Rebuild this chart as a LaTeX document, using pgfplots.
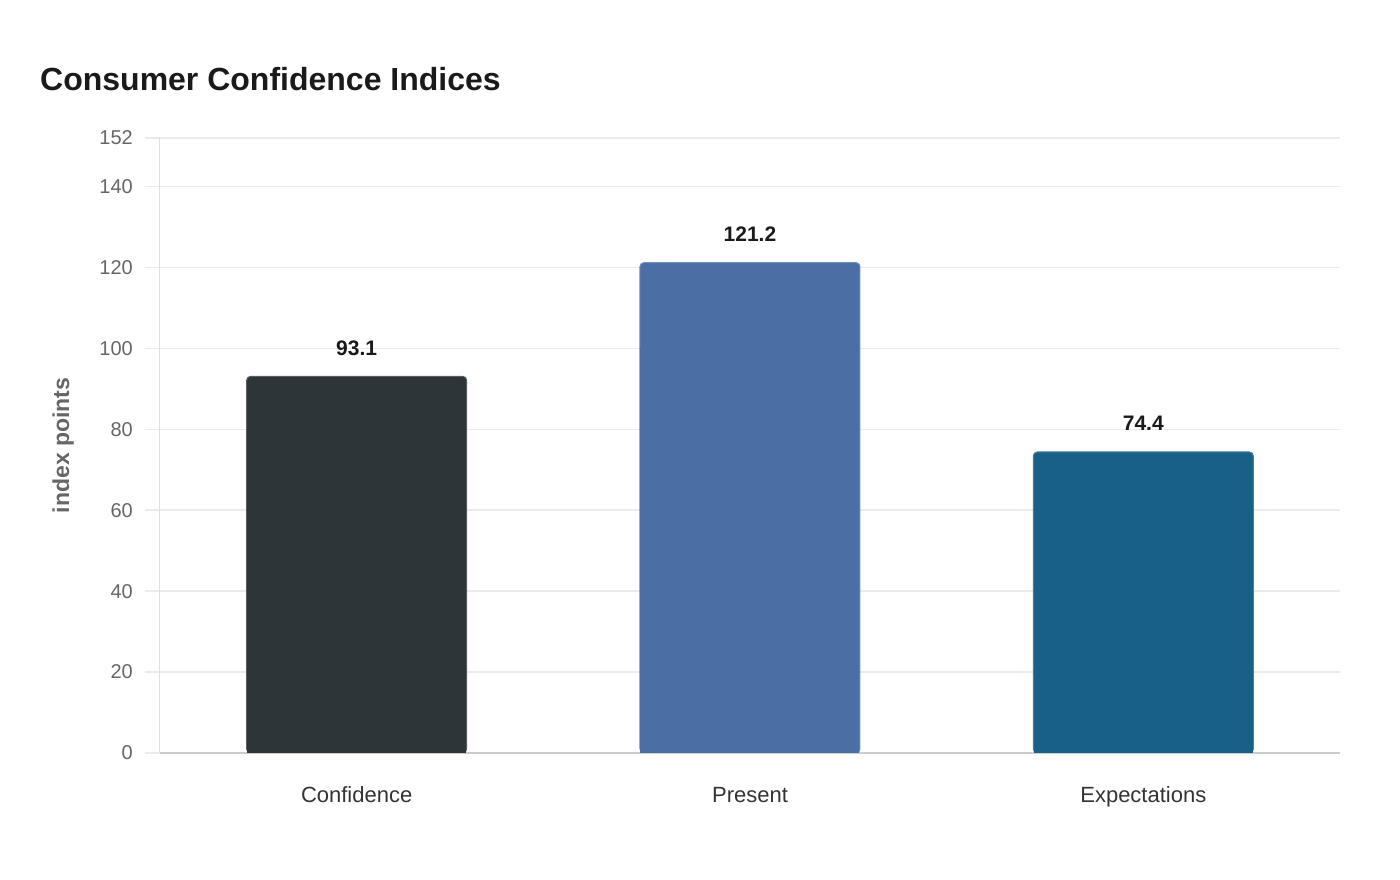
\documentclass[border=0pt]{standalone}
\usepackage{fontspec}
\setmainfont{Liberation Sans}
\usepackage{pgfplots}
\pgfplotsset{compat=1.18}

\definecolor{barDark}{HTML}{2E3538}
\definecolor{barBlue}{HTML}{4A6FA5}
\definecolor{barTeal}{HTML}{186086}
\definecolor{gridc}{HTML}{EBEBEB}
\definecolor{tickc}{HTML}{666666}
\definecolor{labc}{HTML}{333333}
\definecolor{titlec}{HTML}{1A1A1A}

\begin{document}
\begin{tikzpicture}
\useasboundingbox (0,0) rectangle (1400pt,880pt);
\node[anchor=base west, inner sep=0pt, text=titlec, font=\fontsize{32}{38}\selectfont\bfseries]
  at (40pt,789pt) {Consumer Confidence Indices};
\begin{axis}[
  at={(160pt,127pt)}, anchor=south west,
  scale only axis, width=1180pt, height=615pt,
  xmin=-0.5, xmax=2.5, ymin=0, ymax=152,
  axis x line*=bottom, axis y line*=left,
  x axis line style={draw=black!20, line width=1.5pt, -},
  y axis line style={draw=black!12, line width=1pt, -},
  xtick={0,1,2}, xticklabels={Confidence,Present,Expectations},
  x tick style={draw=none},
  xticklabel style={anchor=base, inner sep=0pt, yshift=-35pt, text=labc,
    font=\fontsize{22}{26}\selectfont},
  ytick={0,20,40,60,80,100,120,140,152},
  tick align=outside, major tick length=15pt,
  y tick style={draw=gridc, line width=1.5pt},
  ymajorgrids, grid style={draw=gridc, line width=1.5pt},
  yticklabel style={anchor=east, inner sep=0pt, xshift=-12pt, text=tickc,
    font=\fontsize{20}{24}\selectfont},
  /pgf/number format/assume math mode=true,
  ylabel={index points},
  every axis y label/.style={at={(axis description cs:-0.082,0.5)}, rotate=90,
    anchor=center, text=tickc, font=\fontsize{23}{27}\selectfont\bfseries},
  ybar, bar width=220pt, bar shift=0pt,
  nodes near coords,
  every node near coord/.append style={anchor=base, inner sep=0pt, yshift=21pt,
    text=titlec, font=\fontsize{21}{25}\selectfont\bfseries,
    /pgf/number format/fixed, /pgf/number format/precision=1,
    /pgf/number format/fixed zerofill},
]
\addplot[fill=barDark, draw=barDark!80!white, line width=1pt, rounded corners=4pt]
  coordinates {(0,93.1)};
\addplot[fill=barBlue, draw=barBlue!80!white, line width=1pt, rounded corners=4pt]
  coordinates {(1,121.2)};
\addplot[fill=barTeal, draw=barTeal!80!white, line width=1pt, rounded corners=4pt]
  coordinates {(2,74.4)};
% square off the bottom corners
\addplot[fill=barDark, draw=none, nodes near coords={}, bar width=219pt]
  coordinates {(0,80)};
\addplot[fill=barBlue, draw=none, nodes near coords={}, bar width=219pt]
  coordinates {(1,100)};
\addplot[fill=barTeal, draw=none, nodes near coords={}, bar width=219pt]
  coordinates {(2,60)};
\end{axis}
\end{tikzpicture}
\end{document}
